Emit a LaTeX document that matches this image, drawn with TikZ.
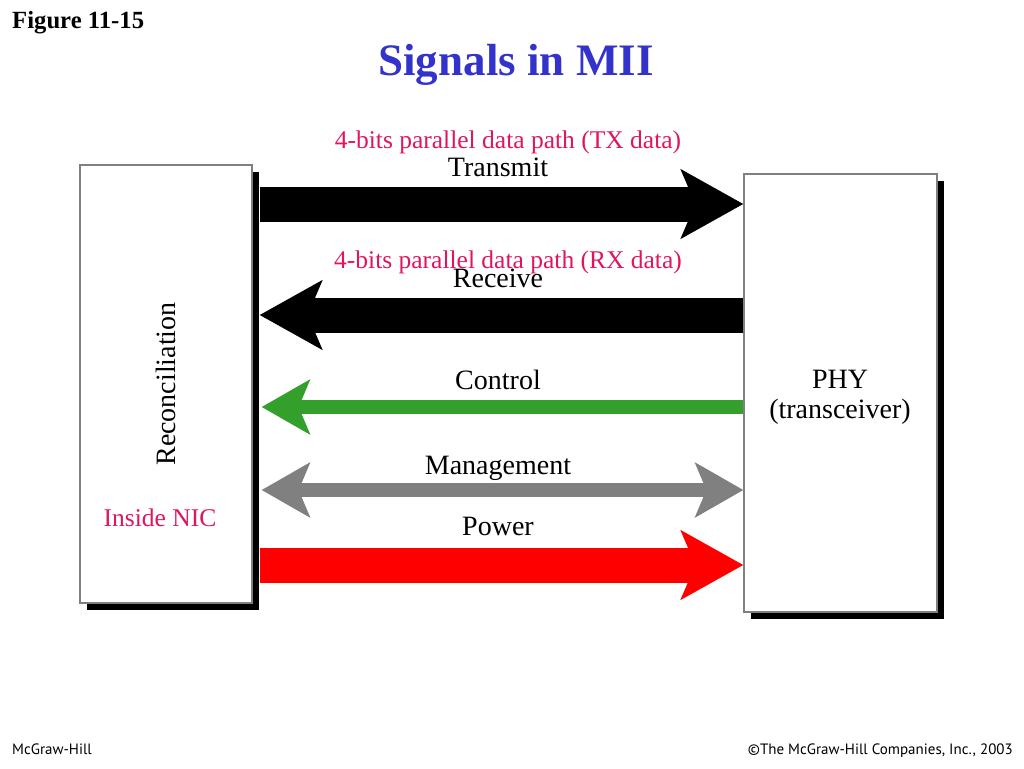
\documentclass[tikz,border=0pt]{standalone}
\usepackage{fontspec}
\setmainfont{Liberation Serif}
\newfontfamily\footfont{PT Sans}
\usetikzlibrary{arrows.meta,positioning,shadows,calc}
\definecolor{titleblue}{RGB}{51,51,204}
\definecolor{notepink}{RGB}{225,20,95}
\definecolor{ctrlgreen}{RGB}{51,160,44}
\definecolor{mgmtgray}{RGB}{128,128,128}
\tikzset{
    bighead/.tip={Stealth[length=62pt, width=68pt, inset=14pt]},
    smallhead/.tip={Stealth[length=48pt, width=54pt, inset=11pt]}
}
\begin{document}
\begin{tikzpicture}[x=1pt, y=-1pt,
    block/.style={draw=gray, line width=1.2pt, fill=white, inner sep=0pt,
        drop shadow={shadow xshift=7pt, shadow yshift=-7pt, fill=black, opacity=1}},
    sig/.style={font=\fontsize{28}{28}\selectfont, anchor=base},
    note/.style={text=notepink, font=\fontsize{25.5}{26}\selectfont, anchor=base},
    fatarrow/.style={line width=35pt},
    thinarrow/.style={line width=14pt}]
    \useasboundingbox (0,0) rectangle (1024,768);

    % Headings
    \node[font=\fontsize{24.7}{25}\selectfont\bfseries, anchor=base west, inner sep=0pt] (fignum) at (12,29) {Figure 11-15};
    \node[font=\fontsize{45}{45}\selectfont\bfseries, text=titleblue, anchor=base] (title) at (516,75) {Signals in MII};

    % Boxes
    \node[block, minimum width=172pt, minimum height=438pt] (recon) at (166,384) {};
    \node[rotate=90, font=\fontsize{28}{28}\selectfont] (reconname) at (recon.center) {Reconciliation};
    \node[note] (nic) at (160,526) {Inside NIC};

    \node[block, minimum width=193pt, minimum height=438pt] (phy) at (840.5,393) {};
    \node[sig] (phyname) at (840,388) {PHY};
    \node[sig] (physub) at (840,418) {(transceiver)};

    % Rows of the signals
    \coordinate (txrow) at (0,204);
    \coordinate (rxrow) at (0,315);
    \coordinate (ctrlrow) at (0,407);
    \coordinate (mgmtrow) at (0,490);
    \coordinate (pwrrow) at (0,565);

    % Transmit
    \draw[fatarrow, -{bighead}] ($(recon.east |- txrow)+(7,0)$) -- (phy.west |- txrow);
    \node[note] (txnote) at (508,148) {4-bits parallel data path (TX data)};
    \node[sig] (txlabel) at (498,176) {Transmit};

    % Receive
    \draw[fatarrow, -{bighead}] (phy.west |- rxrow) -- ($(recon.east |- rxrow)+(7,0)$);
    \node[sig] (rxlabel) at (498,287) {Receive};
    \node[note] (rxnote) at (508,268) {4-bits parallel data path (RX data)};

    % Control
    \draw[thinarrow, ctrlgreen, -{smallhead}] (phy.west |- ctrlrow) -- ($(recon.east |- ctrlrow)+(9,0)$);
    \node[sig] (ctrllabel) at (498,389) {Control};

    % Management
    \draw[thinarrow, mgmtgray, {smallhead}-{smallhead}] ($(recon.east |- mgmtrow)+(9,0)$) -- (phy.west |- mgmtrow);
    \node[sig] (mgmtlabel) at (498,474) {Management};

    % Power
    \draw[fatarrow, red, -{bighead}] ($(recon.east |- pwrrow)+(7,0)$) -- (phy.west |- pwrrow);
    \node[sig] (pwrlabel) at (498,535) {Power};

    % Footer
    \node[font=\footfont\fontsize{15}{15}\selectfont, anchor=base west, inner sep=0pt] (pub) at (12,754) {McGraw-Hill};
    \node[font=\footfont\fontsize{15}{15}\selectfont, anchor=base east, inner sep=0pt] (copy) at (1013,754) {©The McGraw-Hill Companies, Inc., 2003};
\end{tikzpicture}
\end{document}
